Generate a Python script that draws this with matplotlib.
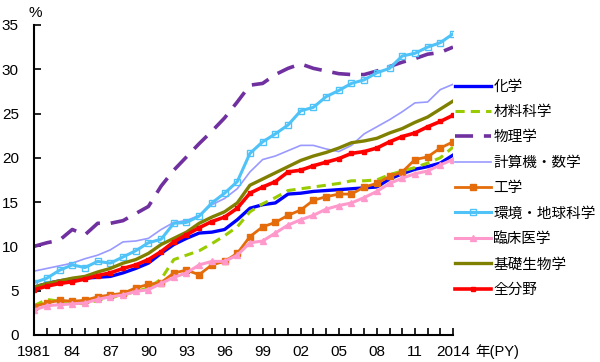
import numpy as np
import matplotlib
matplotlib.use('Agg')
import matplotlib.pyplot as plt

plt.rcParams['font.family'] = ['Liberation Sans', 'Noto Sans CJK JP', 'DejaVu Sans']

# 年(PY)
years = np.arange(1981, 2015)
xtick_years = list(range(1981, 2015, 3))
xtick_labels = ['1981', '84', '87', '90', '93', '96', '99', '02', '05', '08', '11', '2014']

# 各分野の値 (%)
chem = [5.4, 5.8, 6.1, 6.3, 6.4, 6.5, 6.6, 7.0, 7.5, 8.1, 9.2, 10.2, 10.9, 11.5, 11.6, 11.9, 13.0,
        14.3, 14.7, 14.9, 15.9, 16.0, 16.2, 16.3, 16.4, 16.5, 16.6, 16.7, 17.6, 18.2, 18.7, 19.0, 19.4, 20.3]
material = [3.3, 4.0, 3.8, 3.6, 3.5, 3.9, 4.2, 4.5, 4.9, 5.3, 6.3, 8.5, 9.0, 9.5, 10.3, 11.2, 12.2,
            13.9, 14.8, 15.5, 16.3, 16.5, 16.7, 16.9, 17.1, 17.4, 17.4, 17.5, 18.1, 18.5, 18.9, 19.4, 20.0, 21.2]
physics = [10.0, 10.4, 10.7, 11.9, 11.3, 12.6, 12.6, 12.9, 13.7, 14.5, 16.8, 18.6, 20.1, 21.6, 23.0, 24.5, 26.3,
           28.2, 28.4, 29.4, 30.1, 30.6, 30.1, 29.8, 29.5, 29.4, 29.4, 29.8, 30.3, 30.8, 31.2, 31.7, 31.9, 32.5]
compmath = [7.2, 7.5, 7.8, 8.1, 8.6, 9.0, 9.6, 10.5, 10.6, 10.9, 11.9, 12.7, 12.9, 13.5, 14.7, 15.4, 16.5,
            18.4, 19.8, 20.2, 20.8, 21.4, 21.4, 21.0, 20.7, 21.4, 22.7, 23.5, 24.3, 25.2, 26.2, 26.3, 27.7, 28.3]
engineering = [3.2, 3.6, 3.9, 3.8, 3.9, 4.3, 4.5, 4.7, 5.3, 5.7, 5.9, 7.0, 7.3, 6.8, 7.9, 8.3, 9.2,
               11.1, 12.2, 12.7, 13.5, 14.1, 15.2, 15.6, 15.9, 15.9, 16.7, 17.1, 17.9, 18.4, 19.8, 20.1, 21.1, 21.8]
environment = [5.9, 6.4, 7.3, 7.9, 7.6, 8.3, 8.1, 8.8, 9.5, 10.4, 10.8, 12.6, 12.7, 13.4, 14.9, 16.0, 17.3,
               20.5, 21.8, 22.7, 23.7, 25.3, 25.7, 26.9, 27.6, 28.4, 28.8, 29.6, 30.1, 31.5, 31.8, 32.5, 33.0, 34.0]
clinical = [2.8, 3.3, 3.4, 3.5, 3.6, 4.0, 4.3, 4.5, 4.9, 5.1, 5.8, 6.5, 7.0, 7.9, 8.3, 8.3, 9.0,
            10.4, 10.6, 11.5, 12.4, 13.0, 13.5, 14.2, 14.6, 14.9, 15.5, 16.2, 17.1, 17.7, 18.2, 18.5, 19.2, 19.8]
biology = [5.4, 5.8, 6.1, 6.4, 6.6, 7.1, 7.5, 8.1, 8.5, 9.2, 10.2, 10.9, 11.6, 12.6, 13.3, 13.9, 14.9,
           16.9, 17.6, 18.3, 19.0, 19.7, 20.2, 20.6, 21.1, 21.7, 21.9, 22.2, 22.8, 23.3, 24.0, 24.6, 25.5, 26.4]
allfields = [5.1, 5.5, 5.8, 6.0, 6.3, 6.7, 7.0, 7.5, 7.9, 8.5, 9.4, 10.5, 11.3, 12.1, 12.8, 13.3, 14.3,
             16.0, 16.7, 17.3, 18.4, 18.6, 19.1, 19.5, 19.9, 20.5, 20.7, 21.1, 21.8, 22.4, 22.8, 23.5, 24.1, 24.8]

fig = plt.figure(figsize=(6, 3.62), dpi=100)
ax = fig.add_axes([0.057, 0.075, 0.698, 0.856])

ax.plot(years, chem, color='#0000FF', lw=2.4, label='化学')
ax.plot(years, material, color='#99CC00', lw=2.2, ls=(0, (3, 2)), label='材料科学')
ax.plot(years, physics, color='#7030A0', lw=2.6, ls=(0, (5, 3)), label='物理学')
ax.plot(years, compmath, color='#9999FF', lw=1.2, label='計算機・数学')
ax.plot(years, engineering, color='#E46C0A', lw=2.0, marker='s', ms=5, label='工学')
ax.plot(years, environment, color='#4FC3F7', lw=2.2, marker='s', ms=5, mfc='none', mew=1.0,
        label='環境・地球科学')
ax.plot(years, clinical, color='#FF99CC', lw=2.2, marker='^', ms=5, label='臨床医学')
ax.plot(years, biology, color='#808000', lw=2.4, label='基礎生物学')
ax.plot(years, allfields, color='#FF0000', lw=2.6, marker='s', ms=3, label='全分野')

ax.set_xlim(1981, 2014)
ax.set_ylim(0, 35)
ax.set_yticks(range(0, 36, 5))
ax.set_xticks(years, minor=True)
ax.set_xticks(xtick_years)
ax.set_xticklabels(xtick_labels)
ax.tick_params(axis='both', direction='in', labelsize=11, width=1.2, length=5)
ax.tick_params(axis='y', pad=11)
ax.tick_params(axis='x', pad=7)
ax.tick_params(axis='x', which='minor', direction='in', width=1.2, length=5)
ax.spines['top'].set_visible(False)
ax.spines['right'].set_visible(False)
ax.spines['left'].set_linewidth(1.5)
ax.spines['bottom'].set_linewidth(1.5)

fig.text(0.058, 0.965, '%', fontsize=11, ha='center', va='center')
fig.text(0.828, 0.028, '年(PY)', fontsize=10.5, ha='center', va='center')

fig.legend(loc='upper left', bbox_to_anchor=(0.758, 0.78), frameon=False,
           fontsize=10.5, handlelength=2.5, labelspacing=0.78, handletextpad=0.15,
           borderaxespad=0, borderpad=0)

plt.savefig('out.png', dpi=100)
